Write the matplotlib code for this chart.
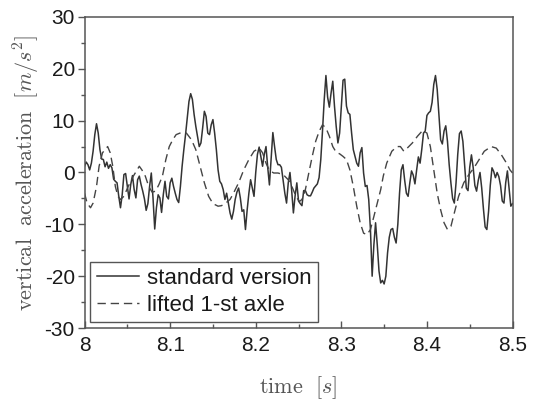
import numpy as np
import matplotlib
matplotlib.use("Agg")
import matplotlib.pyplot as plt
from matplotlib.ticker import MultipleLocator

plt.rcParams['font.family'] = ['Liberation Sans', 'DejaVu Sans']
plt.rcParams['mathtext.fontset'] = 'cm'
plt.rcParams['axes.unicode_minus'] = False

# standard version: sampled every 2 ms from 8.0 s to 8.5 s
t_start = 8.0
dt_std = 0.002
acc_standard = [
    1.2, 2.0, 1.5, 0.5, 1.8, 4.1, 7.3, 9.4, 7.6, 4.4,
    2.6, 2.5, 1.1, 2.0, 0.8, 1.5, 0.9, -1.3, -1.7, -2.0,
    -4.6, -6.8, -4.3, -0.4, -0.2, -2.7, -5.1, -2.3, -0.6, -3.3,
    -4.9, -1.4, -0.7, -2.3, -3.6, -5.1, -7.3, -6.0, -2.7, -0.1,
    -4.9, -10.9, -6.8, -4.3, -4.9, -7.7, -4.3, -1.7, -4.6, -5.1,
    -2.0, -1.1, -2.7, -4.0, -5.2, -5.8, -2.7, 1.2, 4.4, 7.3,
    10.5, 13.7, 15.2, 14.1, 11.2, 8.9, 7.0, 5.0, 5.7, 8.6,
    11.8, 10.8, 7.6, 7.3, 9.2, 10.2, 7.6, 4.4, 0.5, -1.7,
    -2.2, -3.3, -5.2, -4.0, -5.9, -7.8, -9.0, -7.5, -5.2, -3.8,
    -3.0, -4.9, -7.5, -7.2, -11.0, -7.2, -4.0, -1.4, -3.0, -4.6,
    0.0, 3.5, 4.9, 3.0, 1.2, 3.5, 5.0, 1.0, -2.4, 2.5,
    7.7, 5.0, 2.5, 1.5, 1.5, 1.0, -1.5, -4.0, -5.9, -2.0,
    0.0, -3.5, -7.8, -4.5, -2.0, -5.5, -6.0, -6.4, -3.5, -3.5,
    -4.3, -4.5, -4.5, -3.8, -3.0, -2.6, -2.2, -1.0, 2.5, 8.0,
    14.0, 18.7, 14.5, 12.6, 15.3, 17.6, 12.8, 8.9, 5.7, 7.6,
    12.8, 17.8, 18.0, 12.8, 11.5, 11.2, 7.6, 4.4, 3.1, 1.8,
    1.2, 3.8, 4.8, -0.1, -2.7, -2.5, -5.2, -11.0, -20.0, -14.0,
    -9.7, -14.0, -19.0, -21.3, -20.8, -21.5, -20.0, -15.5, -12.5, -11.0,
    -10.8, -12.5, -13.6, -10.0, -4.0, 0.5, 1.5, -1.5, -4.0, -4.6,
    -2.0, 0.3, -0.5, -2.2, 0.5, 3.0, 1.8, 4.5, 7.6, 8.0,
    11.0, 11.5, 11.8, 13.5, 17.0, 18.7, 16.0, 11.0, 6.3, 5.5,
    8.0, 9.0, 6.0, 1.5, -2.0, -5.0, -5.9, -2.0, 3.5, 7.5,
    8.0, 6.0, 1.5, -3.0, -3.5, 1.0, 3.4, 1.0, -2.5, -3.6,
    -1.5, 0.0, -3.0, -7.0, -10.5, -11.0, -7.5, -2.5, 0.9, 0.2,
    -1.0, 0.0, -0.8, -2.5, -5.5, -5.9, -2.0, 0.3, -3.0, -6.5,
    -6.0,
]

# lifted 1-st axle
time_lifted = [
    8.000, 8.003, 8.007, 8.010, 8.014, 8.017, 8.021, 8.027, 8.030, 8.033,
    8.036, 8.039, 8.042, 8.046, 8.051, 8.057, 8.064, 8.067, 8.071, 8.075,
    8.079, 8.083, 8.087, 8.091, 8.095, 8.099, 8.103, 8.107, 8.113, 8.119,
    8.125, 8.130, 8.135, 8.140, 8.145, 8.150, 8.156, 8.160, 8.165, 8.170,
    8.174, 8.180, 8.186, 8.192, 8.198, 8.204, 8.208, 8.212, 8.216, 8.221,
    8.226, 8.232, 8.238, 8.243, 8.247, 8.251, 8.254, 8.258, 8.262, 8.266,
    8.270, 8.274, 8.278, 8.282, 8.286, 8.290, 8.294, 8.298, 8.302, 8.306,
    8.310, 8.314, 8.318, 8.322, 8.326, 8.330, 8.334, 8.338, 8.342, 8.346,
    8.349, 8.353, 8.359, 8.365, 8.369, 8.373, 8.377, 8.383, 8.389, 8.395,
    8.400, 8.404, 8.408, 8.412, 8.416, 8.420, 8.424, 8.428, 8.432, 8.437,
    8.443, 8.449, 8.455, 8.461, 8.467, 8.475, 8.481, 8.487, 8.493, 8.497,
    8.500,
]
acc_lifted = [
    -4.0, -5.9, -6.8, -5.9, -2.7, 1.2, 3.8, 5.0, 3.8, 1.2,
    -2.7, -4.6, -5.2, -4.6, -2.7, -0.7, 1.2, 0.5, -0.7, -2.7,
    -3.8, -3.6, -2.3, -0.7, 2.5, 5.0, 6.3, 7.3, 7.7, 7.6,
    6.3, 4.4, 1.2, -2.0, -4.6, -6.0, -6.5, -6.4, -5.9, -5.2,
    -4.0, -2.0, 0.5, 2.5, 4.1, 4.7, 3.8, 1.8, 0.4, -0.1,
    -0.1, -0.4, -1.4, -3.0, -4.6, -5.6, -5.2, -3.3, -0.1, 3.1,
    6.0, 7.9, 9.2, 8.6, 7.0, 5.0, 3.9, 3.6, 3.1, 2.5,
    0.5, -2.7, -6.5, -9.7, -11.7, -12.0, -11.0, -8.5, -5.9, -3.3,
    -0.7, 1.8, 4.1, 5.0, 5.0, 4.1, 4.7, 5.7, 7.0, 8.1,
    7.6, 5.0, 0.5, -4.0, -7.2, -9.7, -11.0, -10.4, -7.8, -4.6,
    -2.0, -0.4, 0.9, 2.5, 4.1, 5.0, 4.7, 3.4, 1.8, 0.5,
    -0.1,
]

time_standard = t_start + dt_std * np.arange(len(acc_standard))
xtick_labels = ['8', '8.1', '8.2', '8.3', '8.4', '8.5']

fig = plt.figure(figsize=(5.35, 4.03), dpi=100)
ax = fig.add_axes([0.158, 0.186, 0.80, 0.772])

ax.plot(time_standard, acc_standard, color='#333333', linewidth=1.1,
        label='standard version')
ax.plot(time_lifted, acc_lifted, color='#444444', linewidth=1.0,
        dashes=(6, 3.5), label='lifted 1-st axle')

ax.set_xlim(8, 8.5)
ax.set_ylim(-30, 30)
ax.set_xticks([8, 8.1, 8.2, 8.3, 8.4, 8.5], xtick_labels)
ax.xaxis.set_minor_locator(MultipleLocator(0.05))
ax.yaxis.set_major_locator(MultipleLocator(10))
ax.yaxis.set_minor_locator(MultipleLocator(5))

ax.tick_params(axis='x', which='both', direction='in', colors='#555555',
               labelcolor='#1a1a1a', labelsize=15, pad=6)
ax.tick_params(axis='y', which='both', direction='out', colors='#555555',
               labelcolor='#1a1a1a', labelsize=15, pad=2)
ax.tick_params(which='major', length=5, width=1)
ax.tick_params(which='minor', length=3, width=1)
for s in ax.spines.values():
    s.set_color('#555555')
    s.set_linewidth(1.1)

ax.set_ylabel(r'$\mathrm{vertical}\ \ \mathrm{acceleration}\ \ [m/s^2]$',
              fontsize=16, color='#555555', va='center')
ax.yaxis.set_label_coords(-0.135, 0.5)
ax.set_xlabel(r'$\mathrm{time}\ \ [s]$', fontsize=16, color='#555555',
              va='center')
ax.xaxis.set_label_coords(0.5, -0.19)

leg = ax.legend(loc='lower left', fontsize=16, fancybox=False,
                framealpha=1, edgecolor='#555555', handlelength=1.9,
                handletextpad=0.35, borderaxespad=0.25, borderpad=0.3,
                labelspacing=0.25)
leg.get_frame().set_linewidth(1.0)
for txt in leg.get_texts():
    txt.set_color('#1a1a1a')

fig.savefig('out.png', dpi=100)
